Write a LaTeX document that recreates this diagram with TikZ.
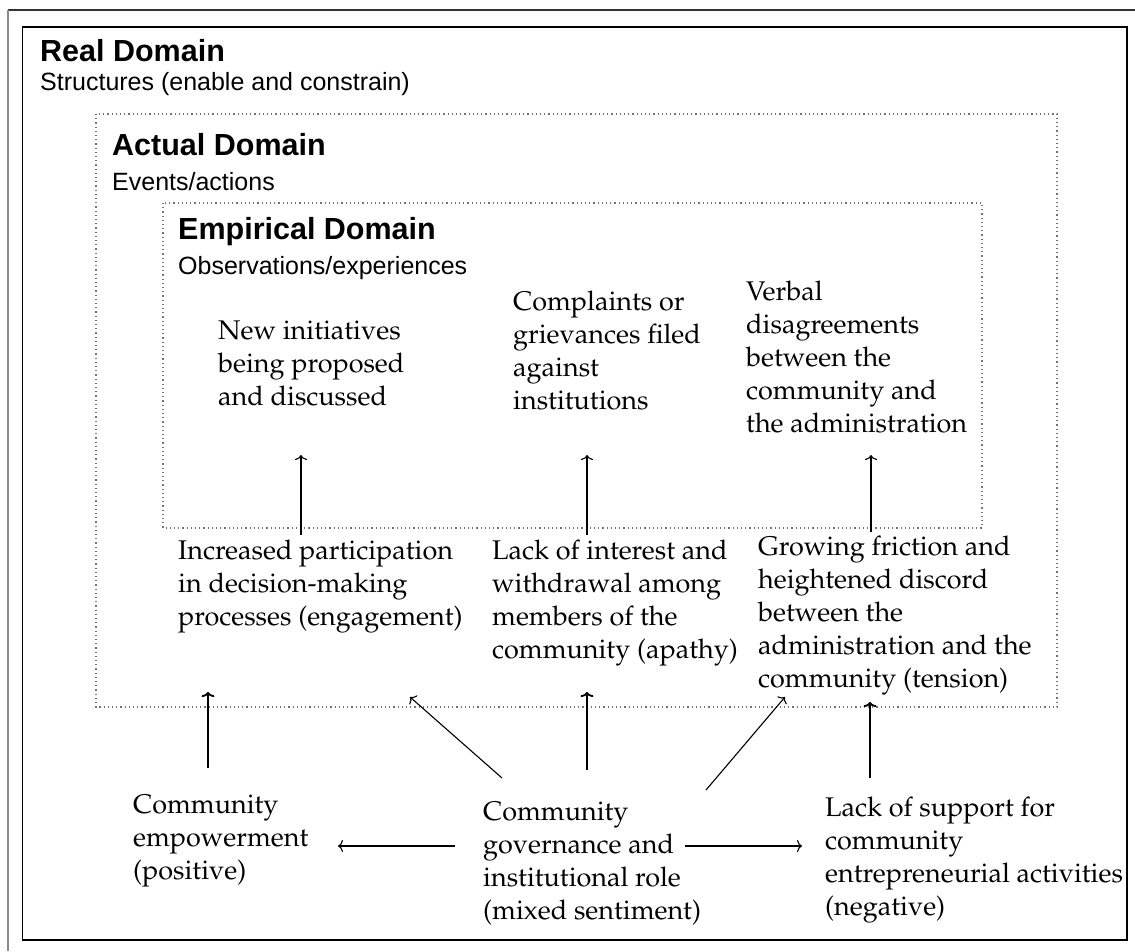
\documentclass[tikz,border=0pt]{standalone}
\usepackage[T1,TU]{fontenc}
\usepackage{fontspec}
\usetikzlibrary{arrows.meta}
\newfontfamily\headfont{Liberation Sans}
\newcommand\palfont{\fontencoding{T1}\fontfamily{ppl}\selectfont}
\begin{document}
\begin{tikzpicture}[x=1pt,y=-1pt,
  domtitle/.style={anchor=base west, inner sep=0pt, font=\headfont\bfseries\fontsize{30.5}{36}\selectfont},
  domsub/.style={anchor=base west, inner sep=0pt, font=\headfont\fontsize{25}{30}\selectfont},
  txt/.style={anchor=north west, inner sep=0pt, align=left, font=\palfont\fontsize{27}{33}\selectfont},
  dotframe/.style={draw=black!55, line width=1.2pt, dash pattern=on 1.2pt off 3pt},
  thinarrow/.style={line width=1.1pt, -{To[length=5pt,width=12pt]}},
  boldarrow/.style={line width=1.8pt, -{To[length=5pt,width=13pt]}}]
\useasboundingbox (0,0) rectangle (1135,951);
\fill[white] (0,0) rectangle (1135,951);

% page edges
\draw[black!80, line width=1.3pt] (8,10) -- (1135,10);
\draw[black!45, line width=2pt] (8,10) -- (8,951);

% real domain frame
\draw[black, line width=1.3pt] (22.5,27) rectangle (1127,940);

% actual and empirical domains
\draw[dotframe] (96,114) rectangle (1057,707);
\draw[dotframe] (163,203) rectangle (982,528);

% domain headings
\node[domtitle] (real) at (40,61) {Real Domain};
\node[domsub] (realsub) at (40,90) {Structures (enable and constrain)};
\node[domtitle] (actual) at (112,155) {Actual Domain};
\node[domsub] (actualsub) at (112,190) {Events/actions};
\node[domtitle] (empir) at (178,239) {Empirical Domain};
\node[domsub] (empirsub) at (178,274) {Observations/experiences};

% observations
\node[txt] (newinit) at (218,316) {\strut New initiatives\\being proposed\\and discussed};
\node[txt] (complain) at (513,287) {\strut Complaints or\\grievances filed\\against\\institutions};
\node[txt] (verbal) at (746,277) {\strut Verbal\\disagreements\\between the\\community and\\the administration};

% events
\node[txt] (engage) at (178,536) {\strut Increased participation\\in decision-making\\processes (engagement)};
\node[txt] (apathy) at (492,536) {\strut Lack of interest and\\withdrawal among\\members of the\\community (apathy)};
\node[txt] (tension) at (758,532) {\strut Growing friction and\\heightened discord\\between the\\administration and the\\community (tension)};

% structures
\node[txt] (empower) at (133,790) {\strut Community\\empowerment\\(positive)};
\node[txt] (govern) at (483,797) {\strut Community\\governance and\\institutional role\\(mixed sentiment)};
\node[txt] (negative) at (825,793) {\strut Lack of support for\\community\\entrepreneurial activities\\(negative)};

% connector ends
\coordinate (e1s) at (301,535); \coordinate (e1t) at (301,455);
\coordinate (e2s) at (587,535); \coordinate (e2t) at (587,455);
\coordinate (e3s) at (871,532); \coordinate (e3t) at (871,455);
\coordinate (s1s) at (208,768); \coordinate (s1t) at (208,692);
\coordinate (s2s) at (502,778); \coordinate (s2t) at (410,697);
\coordinate (s3s) at (587,770); \coordinate (s3t) at (587,692);
\coordinate (s4s) at (706,790); \coordinate (s4t) at (785,697);
\coordinate (s5s) at (870,778); \coordinate (s5t) at (870,702);
\coordinate (hls) at (455,846); \coordinate (hlt) at (338,846);
\coordinate (hrs) at (685,846); \coordinate (hrt) at (802,846);

% events to observations
\draw[thinarrow] (e1s) -- (e1t);
\draw[thinarrow] (e2s) -- (e2t);
\draw[thinarrow] (e3s) -- (e3t);

% structures to events
\draw[boldarrow] (s1s) -- (s1t);
\draw[thinarrow] (s2s) -- (s2t);
\draw[boldarrow] (s3s) -- (s3t);
\draw[thinarrow] (s4s) -- (s4t);
\draw[boldarrow] (s5s) -- (s5t);

% governance to its outcomes
\draw[thinarrow] (hls) -- (hlt);
\draw[thinarrow] (hrs) -- (hrt);
\end{tikzpicture}
\end{document}
